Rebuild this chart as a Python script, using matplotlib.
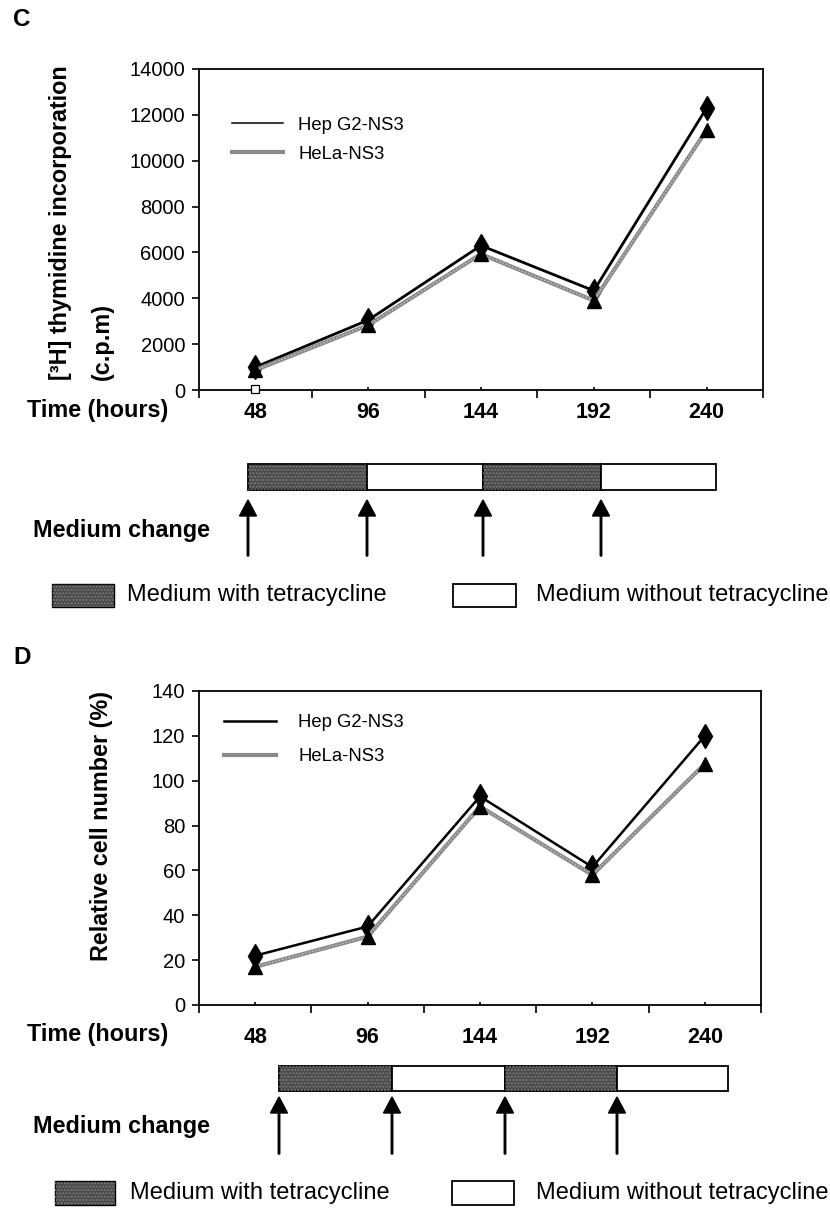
import numpy as np
import matplotlib
matplotlib.use("Agg")
import matplotlib.pyplot as plt
from matplotlib.lines import Line2D
from matplotlib.patches import Rectangle, FancyArrow

plt.rcParams['font.family'] = ['Liberation Sans', 'DejaVu Sans']

# ---------------- data ----------------
hours = [48, 96, 144, 192, 240]
series_names = ["Hep G2-NS3", "HeLa-NS3"]

# Panel C: [3H] thymidine incorporation (c.p.m)
thy_hepg2 = [1000, 3050, 6300, 4330, 12300]
thy_hela = [870, 2830, 5930, 3900, 11340]
thy_artifact_48 = [50]          # small open square drawn at 48 h
thy_yticks = [0, 2000, 4000, 6000, 8000, 10000, 12000, 14000]

# Panel D: relative cell number (%)
cell_hepg2 = [22, 35, 93, 61.5, 120]
cell_hela = [17, 30.5, 88.5, 58, 107.5]
cell_yticks = [0, 20, 40, 60, 80, 100, 120, 140]

# medium schedule (each segment = one medium change)
schedule = ["with", "without", "with", "without"]
legend_medium = ["Medium with tetracycline", "Medium without tetracycline"]

# ---------------- layout ----------------
W, H = 830, 1216
fig = plt.figure(figsize=(W / 100, H / 100), dpi=100)

def ax_rect(l, t, r, b):
    return [l / W, 1 - b / H, (r - l) / W, (b - t) / H]

axC = fig.add_axes(ax_rect(199, 69, 763, 390))
axD = fig.add_axes(ax_rect(199, 691, 761, 1005))
ov = fig.add_axes([0, 0, 1, 1], zorder=-1)
ov.set_xlim(0, W)
ov.set_ylim(H, 0)
ov.axis('off')

DARK = '#4a4a4a'
GRAY = '#8a8a8a'


def draw_panel(ax, hep, hela, yticks, label_pad, hep_lw, leg_hep_lw):
    x = np.arange(len(hours)) + 0.5
    ax.plot(x, hep, color='black', lw=hep_lw, marker='d', ms=12,
            mfc='black', mec='black', zorder=3, solid_joinstyle='miter')
    ax.plot(x, hela, color=GRAY, lw=3.0, zorder=4)
    ax.plot(x, hela, color='#c4c4c4', lw=1.0, ls=(0, (1, 1.5)), zorder=4)
    ax.plot(x, hela, ls='none', marker='^', ms=10, mfc='black',
            mec='black', zorder=5)
    ax.set_xlim(0, len(hours))
    ax.set_ylim(yticks[0], yticks[-1])
    ax.set_yticks(yticks)
    ax.set_xticks(np.arange(len(hours) + 1))
    ax.set_xticklabels([])
    ax.set_xticks(x, minor=True)
    ax.set_xticklabels([str(h) for h in hours], minor=True,
                       fontweight='bold', fontsize=15.5)
    ax.tick_params(axis='y', direction='out', length=5, width=1.2,
                   labelsize=14.5, pad=5)
    ax.tick_params(axis='x', which='major', direction='out', length=6,
                   width=1.2)
    ax.tick_params(axis='x', which='minor', direction='in', length=2.5,
                   width=1.2, pad=label_pad)
    for s in ax.spines.values():
        s.set_linewidth(1.3)
    handles = [Line2D([], [], color='black', lw=leg_hep_lw),
               Line2D([], [], color=GRAY, lw=3.0)]
    return handles


hC = draw_panel(axC, thy_hepg2, thy_hela, thy_yticks, 9.0, 2.0, 1.1)
axC.plot([0.5], thy_artifact_48, ls='none', marker='s', ms=6, mfc='white',
         mec='black', mew=0.9, zorder=6, clip_on=False)
axC.legend(hC, series_names, loc='center left',
           bbox_to_anchor=(0.058, 0.78), frameon=False, fontsize=13.3,
           handlelength=2.8, handletextpad=0.8, labelspacing=0.65,
           borderpad=0, borderaxespad=0)

hD = draw_panel(axD, cell_hepg2, cell_hela, cell_yticks, 16.0, 1.8, 1.8)
axD.legend(hD, series_names, loc='center left',
           bbox_to_anchor=(0.045, 0.845), frameon=False, fontsize=13.3,
           handlelength=2.8, handletextpad=1.2, labelspacing=0.9,
           borderpad=0, borderaxespad=0)

# ---------------- text & schematic in figure pixels ----------------
BOLD = dict(fontweight='bold')
ov.text(22, 20, 'C', fontsize=17.5, ha='center', va='center', **BOLD)
ov.text(22, 658, 'D', fontsize=17.5, ha='center', va='center', **BOLD)

ov.text(61, 380, '[³H] thymidine incorporation', rotation=90, ha='center',
        va='bottom', fontsize=16.8, **BOLD)
ov.text(102, 380, '(c.p.m)', rotation=90, ha='center', va='bottom',
        fontsize=16.8, **BOLD)
ov.text(101, 826, 'Relative cell number (%)', rotation=90, ha='center',
        va='center', fontsize=16.8, **BOLD)


def schematic(time_y, bar_top, bar_bot, edges, arrow_tip, arrow_tail,
              mc_y, leg_top, leg_bot, dark_box, white_box, tx1, tx2):
    ov.text(168, time_y, 'Time (hours)', ha='right', va='center',
            fontsize=16.8, **BOLD)
    for i, kind in enumerate(schedule):
        x0, x1 = edges[i], edges[i + 1]
        fc = DARK if kind == 'with' else 'white'
        ov.add_patch(Rectangle((x0, bar_top), x1 - x0, bar_bot - bar_top,
                               facecolor=fc, edgecolor='black', lw=1.3))
        if kind == 'with':
            ov.add_patch(Rectangle((x0, bar_top), x1 - x0,
                                   bar_bot - bar_top, facecolor='none',
                                   edgecolor='#7a7a7a', lw=0,
                                   hatch='.....'))
        ov.add_patch(FancyArrow(x0, arrow_tail, 0, arrow_tip - arrow_tail,
                                width=1.5, head_width=17, head_length=16,
                                length_includes_head=True, color='black'))
    ov.text(210, mc_y, 'Medium change', ha='right', va='center',
            fontsize=16.8, **BOLD)
    hy = (leg_top + leg_bot) / 2
    ov.add_patch(Rectangle((dark_box[0], leg_top), dark_box[1] - dark_box[0],
                           leg_bot - leg_top, facecolor=DARK,
                           edgecolor='black', lw=1.0))
    ov.add_patch(Rectangle((dark_box[0], leg_top), dark_box[1] - dark_box[0],
                           leg_bot - leg_top, facecolor='none',
                           edgecolor='#7a7a7a', lw=0, hatch='.....'))
    ov.add_patch(Rectangle((white_box[0], leg_top),
                           white_box[1] - white_box[0], leg_bot - leg_top,
                           facecolor='white', edgecolor='black', lw=1.3))
    ov.text(tx1, hy, legend_medium[0], ha='left', va='center', fontsize=17)
    ov.text(tx2, hy, legend_medium[1], ha='left', va='center', fontsize=17)


schematic(410, 464, 490, [248, 367, 483, 601, 716], 500, 556, 530,
          584, 607, (52, 114), (453, 516), 127, 536)
schematic(1035, 1066, 1091, [279, 392, 505, 617, 728], 1097, 1154, 1127,
          1181, 1205, (55, 115), (452, 514), 130, 536)

fig.savefig('out.png', dpi=100)
